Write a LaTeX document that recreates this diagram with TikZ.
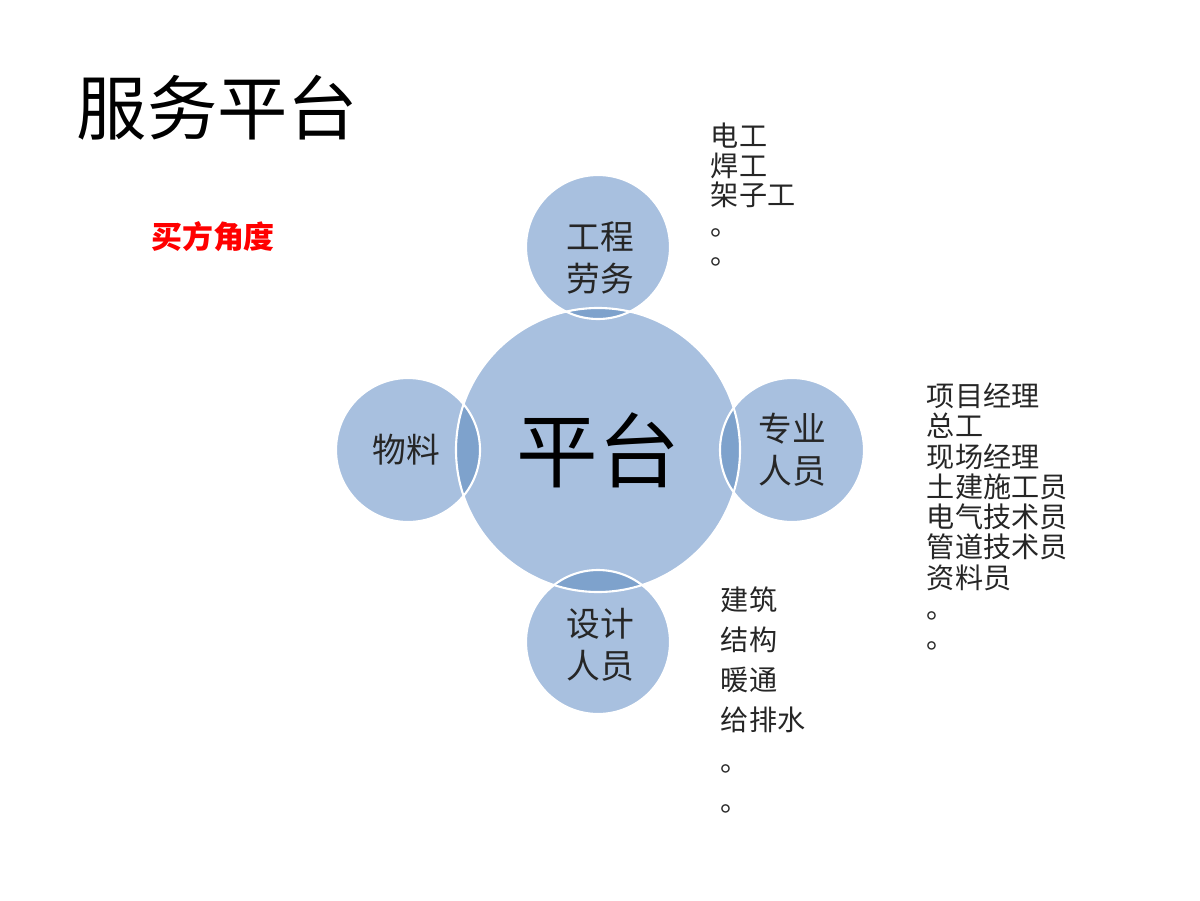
\documentclass[tikz,border=0pt]{standalone}
\usepackage{fontspec}
\newfontfamily\cjk{Noto Sans CJK SC}
\begin{document}
\begin{tikzpicture}[x=0.025cm,y=-0.025cm,
  circ/.style={fill=cfill,draw=white,line width=1.5pt},
  ctext/.style={font=\cjk\fontsize{24}{30}\selectfont,align=center,text=black!85},
  lst/.style={font=\cjk\fontsize{20}{21}\selectfont,align=left,anchor=north west,text=black!85}]
\definecolor{cfill}{HTML}{A8C0DF}
\definecolor{cdark}{HTML}{7EA2CC}
\useasboundingbox (0,0) rectangle (1200,900);
\fill[white] (0,0) rectangle (1200,900);
\coordinate (C) at (598,450);
\coordinate (T) at (598,247);
\coordinate (R) at (792,450);
\coordinate (L) at (408,450);
\coordinate (B) at (598,642);
\fill[cfill] (C) circle (142);
\foreach \p in {T,R,L,B}{
  \fill[cfill] (\p) circle (72);
  \begin{scope}\clip (C) circle (142); \fill[cdark] (\p) circle (72); \end{scope}
}
\draw[white,line width=1.5pt] (C) circle (142);
\foreach \p in {T,R,L,B}{\draw[white,line width=1.5pt] (\p) circle (72);}
\node[font=\cjk\fontsize{58}{60}\selectfont,text=black] (ct) at (598,450) {平台};
\node[ctext] (tt) at (600,258) {工程\\劳务};
\node[ctext] (rt) at (792,450) {专业\\人员};
\node[ctext] (lt) at (406,450) {物料};
\node[ctext] (bt) at (600,645) {设计\\人员};
\node[font=\cjk\fontsize{50}{52}\selectfont,anchor=west,text=black] (title) at (72,108) {服务平台};
\node[font=\cjk\bfseries\fontsize{22}{24}\selectfont,text=red] (buy) at (213,237) {买方角度};
\node[lst] (l1) at (706,118) {电工\\焊工\\架子工\\。\\。};
\node[lst,font=\cjk\fontsize{20}{21.5}\selectfont] (l2) at (922,378) {项目经理\\总工\\现场经理\\土建施工员\\电气技术员\\管道技术员\\资料员\\。\\。};
\node[lst,font=\cjk\fontsize{20}{28.5}\selectfont] (l3) at (716,582) {建筑\\结构\\暖通\\给排水\\。\\。};
\end{tikzpicture}
\end{document}
